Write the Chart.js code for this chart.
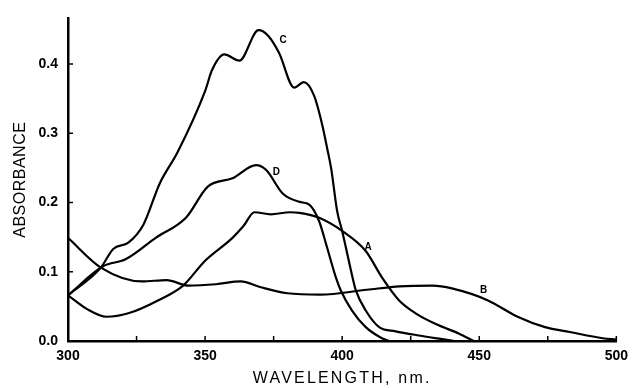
<!DOCTYPE html>
<html>
<head>
<meta charset="utf-8">
<script src="https://cdn.jsdelivr.net/npm/chart.js@4.4.0/dist/chart.umd.min.js"></script>
<style>
  html, body { margin: 0; padding: 0; background: #fff; }
  #wrap { width: 635px; height: 388px; }
</style>
</head>
<body>
<div id="wrap"><canvas id="spectra" width="635" height="388"></canvas></div>
<script>
// wavelength (nm) and absorbance
var wlA  = [300, 307, 314, 322, 333, 342, 350, 360, 364, 368, 374, 381, 384.4, 391.6, 400, 408.6, 414.5, 420.7, 426.8, 435, 442.5, 448];
var absA = [0.066, 0.046, 0.035, 0.040, 0.059, 0.080, 0.116, 0.149, 0.166, 0.186, 0.183, 0.186, 0.185, 0.178, 0.159, 0.130, 0.092, 0.059, 0.040, 0.023, 0.011, 0.0];

var wlB  = [300, 312, 327, 336, 344, 354, 363, 370, 380, 392, 409, 421, 433, 440, 453, 464, 474, 483, 495, 500];
var absB = [0.149, 0.106, 0.086, 0.088, 0.080, 0.082, 0.086, 0.078, 0.069, 0.067, 0.074, 0.079, 0.080, 0.076, 0.059, 0.035, 0.020, 0.013, 0.004, 0.002];

var wlC  = [300, 312, 316.5, 322, 327.5, 333.5, 340, 350, 352.5, 357, 362.5, 369.5, 373, 377, 382.5, 386, 389.8, 392.8, 394.6, 396, 398.2, 400, 401.8, 403.6, 405, 408.6, 413.5, 419.5, 428, 436, 441];
var absC = [0.066, 0.106, 0.133, 0.142, 0.168, 0.228, 0.273, 0.361, 0.391, 0.414, 0.405, 0.449, 0.441, 0.416, 0.366, 0.374, 0.354, 0.311, 0.277, 0.249, 0.187, 0.159, 0.127, 0.095, 0.073, 0.044, 0.020, 0.014, 0.008, 0.003, 0.0];

var wlD  = [300, 312.8, 321, 332, 343, 351, 360, 368.6, 372.3, 378.3, 384.4, 388, 391.6, 394.5, 397.7, 399.5, 403.6, 408.6, 414.5, 417];
var absD = [0.066, 0.108, 0.118, 0.149, 0.178, 0.223, 0.235, 0.254, 0.247, 0.213, 0.201, 0.197, 0.173, 0.135, 0.092, 0.073, 0.044, 0.020, 0.004, 0.0];

// curve letters: [text, wavelength, absorbance]
var curveLabels = [["C", 378.5, 0.434], ["D", 376, 0.244], ["A", 409.5, 0.136], ["B", 451.6, 0.074]];

var yTicks = [0, 0.1, 0.2, 0.3, 0.4];

function pts(xs, ys) {
    return xs.map(function (x, i) { return { x: x, y: ys[i] }; });
}

function curve(xs, ys) {
    return {
        data: pts(xs, ys),
        borderColor: "#000",
        borderWidth: 2.2,
        pointRadius: 0,
        cubicInterpolationMode: "monotone",
        fill: false
    };
}

var tickFont = { family: "'Liberation Sans', sans-serif", size: 14, weight: "bold" };
var titleFont = { family: "'Liberation Sans', sans-serif", size: 16 };

// spread the letters of an axis title a little, like the typed original
function spacedTitle(s, px) {
    if (s._spaced) return;
    var orig = s.drawTitle;
    s.drawTitle = function () {
        this.ctx.letterSpacing = px;
        orig.apply(this, arguments);
        this.ctx.letterSpacing = "0px";
    };
    s._spaced = true;
}

// tick marks pointing into the plot, plus the curve letters
var extras = {
    id: "extras",
    afterDraw: function (chart) {
        var ctx = chart.ctx, xs = chart.scales.x, ys = chart.scales.y;
        var area = chart.chartArea;
        ctx.save();
        ctx.strokeStyle = "#000";
        ctx.lineWidth = 1.5;
        ctx.beginPath();
        for (var w = 325; w <= 500; w += 25) {
            var px = xs.getPixelForValue(w);
            ctx.moveTo(px, area.bottom);
            ctx.lineTo(px, area.bottom - 5);
        }
        yTicks.slice(1).forEach(function (v) {
            var py = ys.getPixelForValue(v);
            ctx.moveTo(area.left, py);
            ctx.lineTo(area.left + 5, py);
        });
        ctx.stroke();

        ctx.fillStyle = "#000";
        ctx.font = "bold 10px 'Liberation Sans', sans-serif";
        ctx.textAlign = "center";
        ctx.textBaseline = "middle";
        curveLabels.forEach(function (l) {
            ctx.fillText(l[0], xs.getPixelForValue(l[1]), ys.getPixelForValue(l[2]));
        });
        ctx.restore();
    }
};

var ctx = document.getElementById("spectra").getContext("2d");
var chart = new Chart(ctx, {
    type: "line",
    data: {
        datasets: [curve(wlA, absA), curve(wlB, absB), curve(wlC, absC), curve(wlD, absD)]
    },
    options: {
        animation: false,
        responsive: false,
        layout: { padding: { top: 15, right: 17, left: 0, bottom: 0 } },
        plugins: { legend: { display: false }, tooltip: { enabled: false } },
        scales: {
            x: {
                type: "linear",
                min: 300,
                max: 500,
                grid: { display: false, drawTicks: false },
                border: { display: true, color: "#000", width: 2.5 },
                ticks: {
                    stepSize: 25,
                    padding: 7,
                    color: "#000",
                    font: tickFont,
                    maxRotation: 0,
                    autoSkip: false,
                    callback: function (v) { return v % 50 === 0 ? String(v) : ""; }
                },
                title: { display: true, text: "WAVELENGTH, nm.", color: "#000", font: titleFont, padding: { top: 0, bottom: 0 } },
                afterFit: function (s) { s.height = 47; spacedTitle(s, "2.2px"); }
            },
            y: {
                min: 0,
                max: 0.466,
                grid: { display: false, drawTicks: false },
                border: { display: true, color: "#000", width: 2.5 },
                ticks: {
                    padding: 10,
                    color: "#000",
                    font: tickFont,
                    callback: function (v) { return Number(v).toFixed(1); }
                },
                afterBuildTicks: function (s) {
                    s.ticks = yTicks.map(function (v) { return { value: v }; });
                },
                title: { display: true, text: "ABSORBANCE", color: "#000", font: titleFont, padding: { top: 11, bottom: 0 } },
                afterFit: function (s) { s.width = 68; spacedTitle(s, "0.5px"); }
            }
        }
    },
    plugins: [extras]
});
</script>
</body>
</html>
